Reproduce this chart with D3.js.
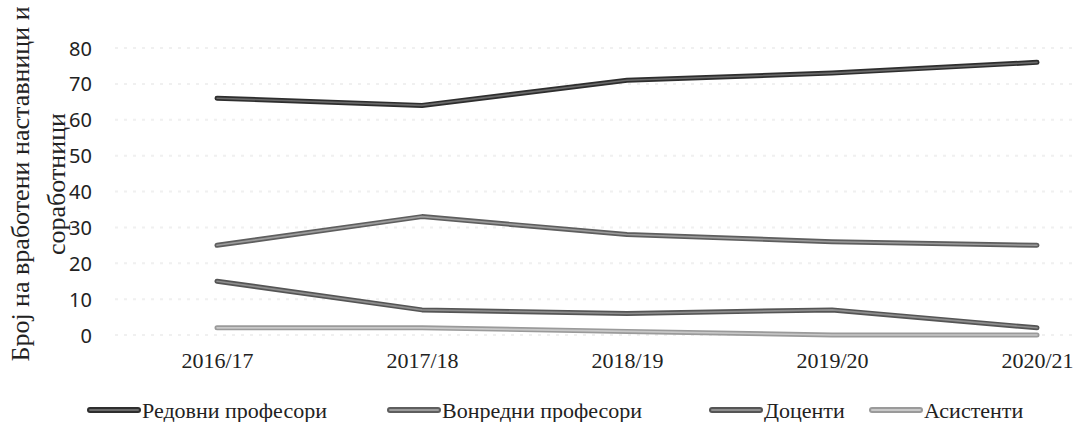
<!doctype html>
<html>
    <head>
        <meta charset="utf-8">
        <title>Број на вработени наставници и соработници</title>
        <script src="https://d3js.org/d3.v7.min.js"></script>
        <style type="text/css">
            body { margin: 0; background: #fff; }
            .tick-y { font-family: "Noto Sans", sans-serif; font-size: 20px; fill: #222; }
            .tick-x { font-family: "Liberation Serif", serif; font-size: 22px; fill: #222; }
            .legend text { font-family: "Liberation Serif", serif; font-size: 22px; fill: #222; }
            .ytitle { font-family: "Liberation Serif", serif; font-size: 26px; fill: #222; }
        </style>
    </head>
    <body>
        <script>
        // data
        var years = ["2016/17", "2017/18", "2018/19", "2019/20", "2020/21"];
        var seriesNames = ["Редовни професори", "Вонредни професори", "Доценти", "Асистенти"];
        var redovni  = [66, 64, 71, 73, 76];
        var vonredni = [25, 33, 28, 26, 25];
        var docenti  = [15, 7, 6, 7, 2];
        var asistenti = [2, 2, 1, 0, 0];
        var yTicks = [0, 10, 20, 30, 40, 50, 60, 70, 80];

        var allSeries = [redovni, vonredni, docenti, asistenti];
        var outerCol = ["#2e2e2e", "#5e5e5e", "#555555", "#9a9a9a"];
        var innerCol = ["#6a6a6a", "#9c9c9c", "#8e8e8e", "#c8c8c8"];

        var W = 1079, H = 422;
        var svg = d3.select("body").append("svg").attr("width", W).attr("height", H);

        var x = d3.scalePoint().domain(years).range([217, 1037]);
        var y = d3.scaleLinear().domain([0, 80]).range([335, 48]);

        // faint dotted gridlines (barely visible on the scan)
        svg.selectAll("line.grid")
            .data(yTicks)
            .enter().append("line")
                .attr("class", "grid")
                .attr("x1", 115).attr("x2", 1075)
                .attr("y1", function(d) { return y(d); })
                .attr("y2", function(d) { return y(d); })
                .attr("stroke", "#f0f0f0")
                .attr("stroke-width", 2)
                .attr("stroke-dasharray", "3,6");

        // y axis labels
        var yAxis = d3.axisLeft(y).tickValues(yTicks).tickSize(0).tickPadding(0);
        var yg = svg.append("g").attr("transform", "translate(92,0)").call(yAxis);
        yg.select(".domain").remove();
        yg.selectAll("text").attr("class", "tick-y").attr("font-family", null).attr("font-size", null).attr("fill", null).attr("dy", "0.35em");

        // x axis labels
        var xAxis = d3.axisBottom(x).tickSize(0).tickPadding(0);
        var xg = svg.append("g").attr("transform", "translate(0,352)").call(xAxis);
        xg.select(".domain").remove();
        xg.selectAll("text").attr("class", "tick-x").attr("font-family", null).attr("font-size", null).attr("fill", null);

        // y title, two rotated lines
        var yt = svg.append("text")
            .attr("class", "ytitle")
            .attr("transform", "translate(29,184) rotate(-90)")
            .attr("text-anchor", "middle");
        yt.append("tspan").attr("x", 0).attr("dy", 0).text("Број на вработени наставници и");
        yt.append("tspan").attr("x", 0).attr("dy", 36).text("соработници");

        var line = d3.line()
            .x(function(d, i) { return x(years[i]); })
            .y(function(d) { return y(d); });

        // draw lines back to front
        for (var s = allSeries.length - 1; s >= 0; s--) {
            var g = svg.append("g").attr("class", "series" + s);
            g.append("path")
                .attr("d", line(allSeries[s]))
                .attr("fill", "none")
                .attr("stroke", outerCol[s])
                .attr("stroke-width", 5)
                .attr("stroke-linecap", "round")
                .attr("stroke-linejoin", "round");
            g.append("path")
                .attr("d", line(allSeries[s]))
                .attr("fill", "none")
                .attr("stroke", innerCol[s])
                .attr("stroke-width", 1.6)
                .attr("stroke-linecap", "round")
                .attr("stroke-linejoin", "round");
        }

        // legend
        var legX = [88, 388, 710, 870];
        var leg = svg.append("g").attr("class", "legend");
        seriesNames.forEach(function(name, i) {
            var lg = leg.append("g").attr("transform", "translate(" + legX[i] + ",410)");
            lg.append("line").attr("x1", 2).attr("x2", 50).attr("y1", 0).attr("y2", 0)
                .attr("stroke", outerCol[i]).attr("stroke-width", 6).attr("stroke-linecap", "round");
            lg.append("line").attr("x1", 2).attr("x2", 50).attr("y1", 0).attr("y2", 0)
                .attr("stroke", innerCol[i]).attr("stroke-width", 2).attr("stroke-linecap", "round");
            lg.append("text").attr("x", 54).attr("dy", "0.35em").text(name);
        });
        </script>
    </body>
</html>
